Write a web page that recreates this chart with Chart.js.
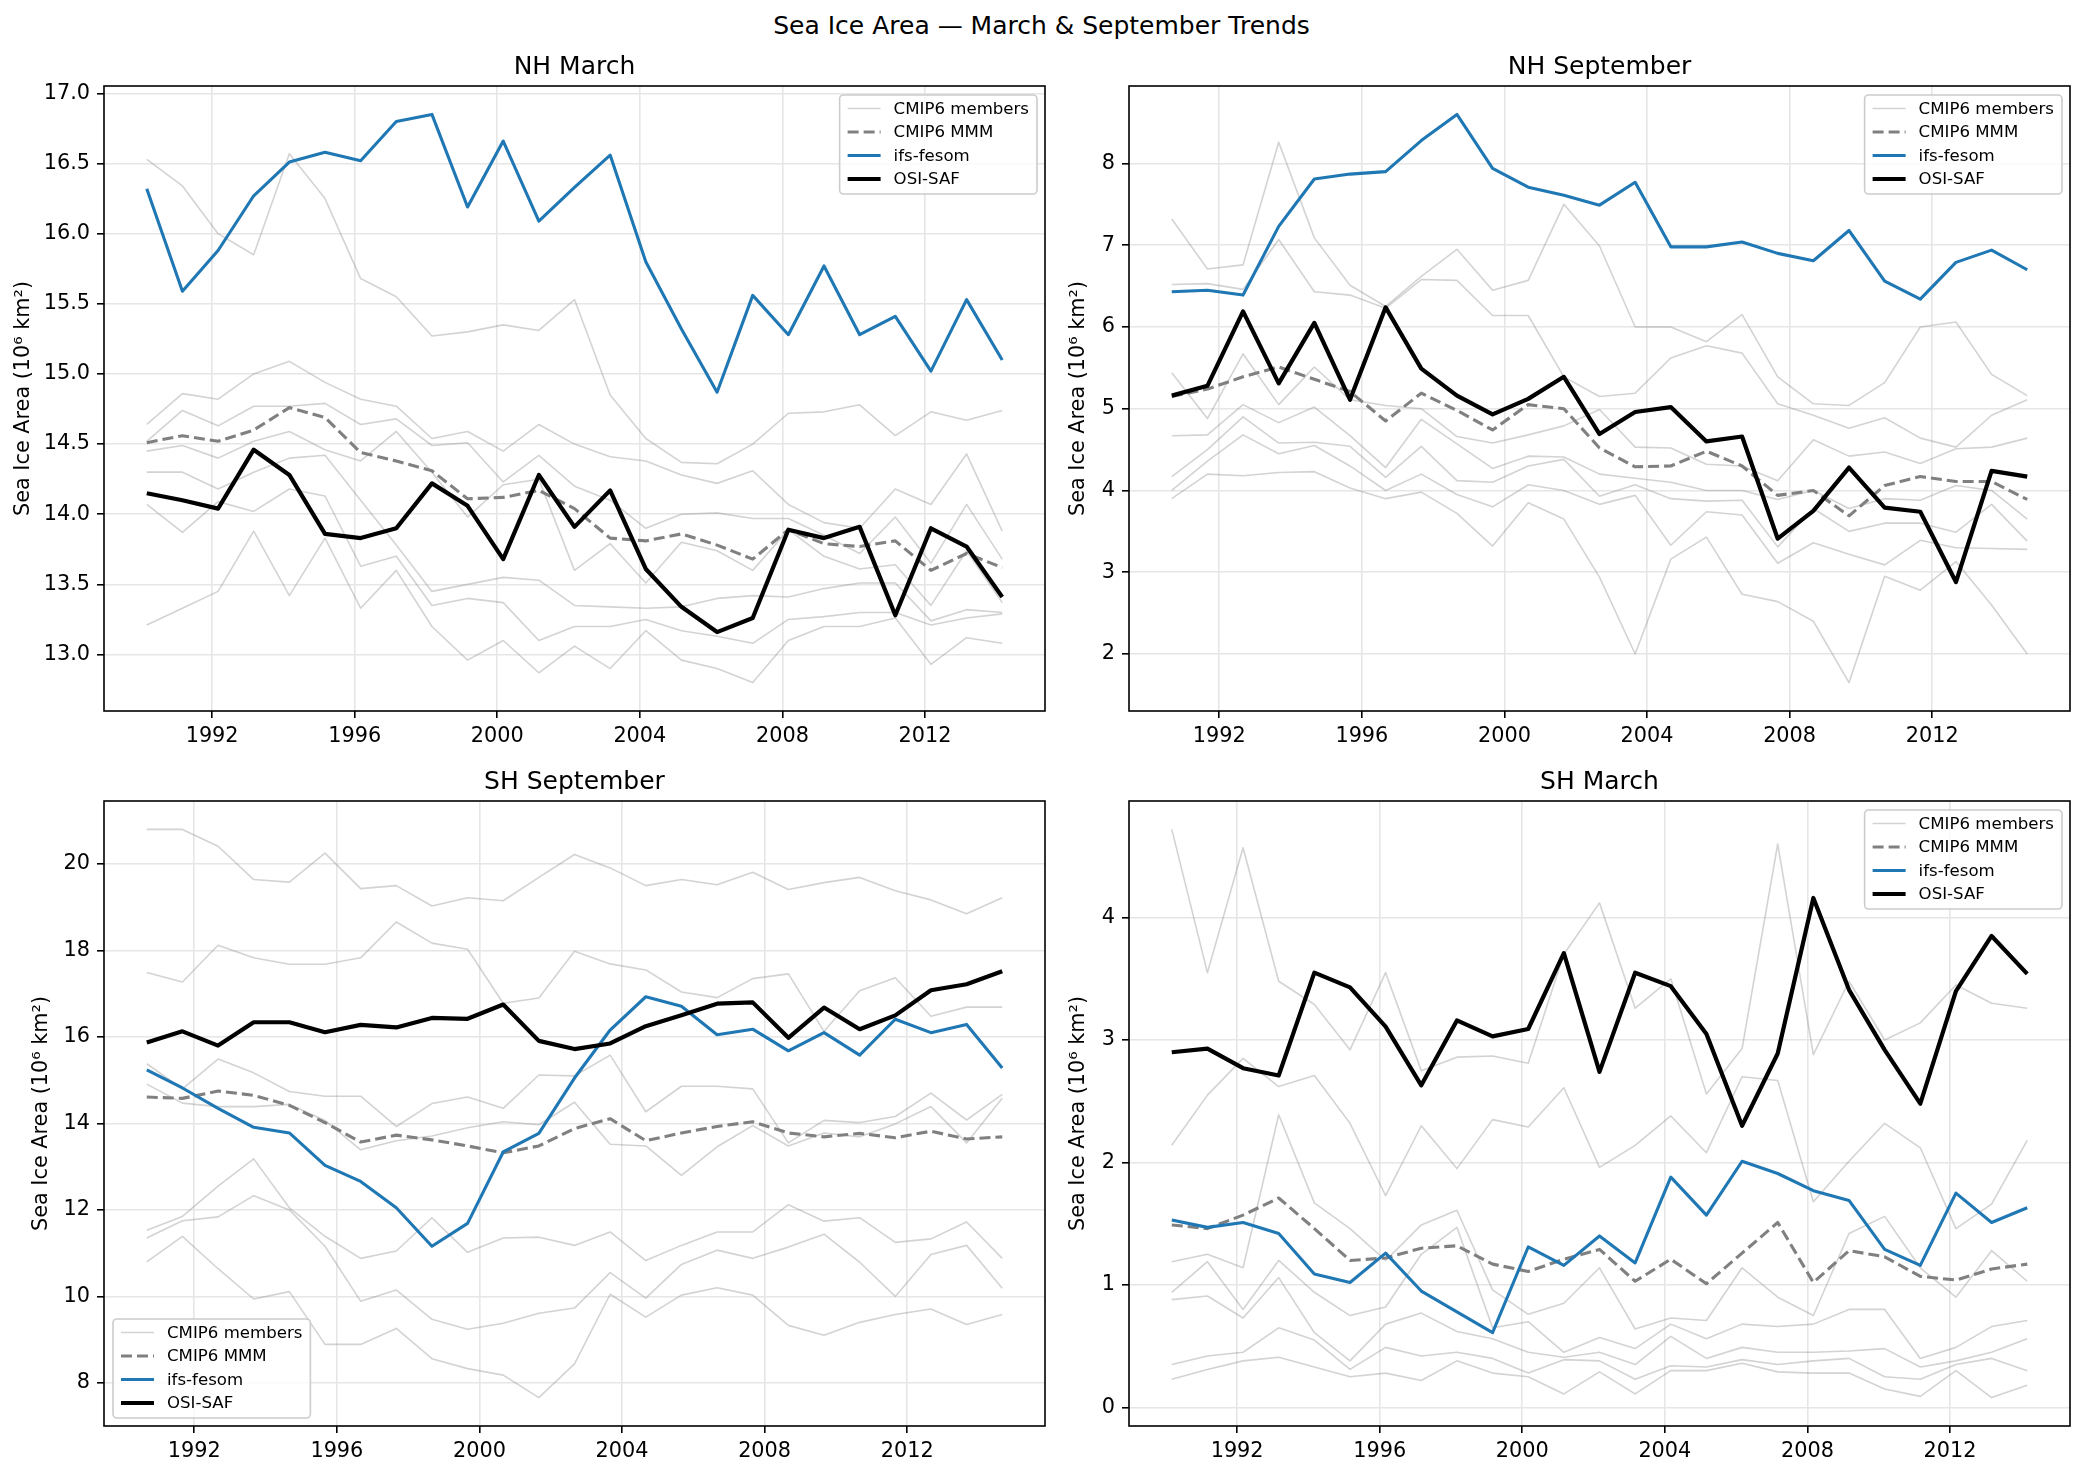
<!DOCTYPE html>
<html>
<head>
<meta charset="utf-8">
<script src="https://cdn.jsdelivr.net/npm/chart.js@4.4.1/dist/chart.umd.min.js"></script>
<style>
html,body{margin:0;padding:0;background:#fff;width:2083px;height:1476px;overflow:hidden;position:relative;font-family:'DejaVu Sans',sans-serif}
#suptitle{position:absolute;left:0;top:11px;width:2083px;text-align:center;font-size:25px;line-height:30px;color:#000}
canvas{position:absolute}
</style>
</head>
<body>
<div id="suptitle">Sea Ice Area — March &amp; September Trends</div>
<canvas id="nhMar" width="1060" height="703" style="left:0;top:50px"></canvas>
<canvas id="nhSep" width="1029" height="703" style="left:1054px;top:50px"></canvas>
<canvas id="shSep" width="1060" height="703" style="left:0;top:765px"></canvas>
<canvas id="shMar" width="1029" height="703" style="left:1054px;top:765px"></canvas>
<script>
// ---- data ----
const years = [1990,1991,1992,1993,1994,1995,1996,1997,1998,1999,2000,2001,2002,2003,2004,2005,2006,2007,2008,2009,2010,2011,2012,2013,2014];
const xTicks = [1992, 1996, 2000, 2004, 2008, 2012];
const MARCH = 2/12, SEPT = 8/12;

// NH March
const nhMarOsi = [14.15,14.10,14.04,14.46,14.28,13.86,13.83,13.90,14.22,14.06,13.68,14.28,13.91,14.17,13.61,13.34,13.16,13.26,13.89,13.83,13.91,13.28,13.90,13.77,13.41];
const nhMarIfs = [16.32,15.59,15.88,16.27,16.51,16.58,16.52,16.80,16.85,16.19,16.66,16.09,16.33,16.56,15.80,15.32,14.87,15.56,15.28,15.77,15.28,15.41,15.02,15.53,15.10];
const nhMarMmm = [14.51,14.56,14.52,14.60,14.76,14.69,14.44,14.38,14.31,14.11,14.12,14.17,14.04,13.83,13.81,13.86,13.78,13.68,13.89,13.79,13.77,13.81,13.60,13.72,13.62];
const nhMarMembers = [
  [16.53,16.34,16.00,15.85,16.57,16.25,15.68,15.55,15.27,15.30,15.35,15.31,15.53,14.85,14.54,14.37,14.36,14.50,14.72,14.73,14.78,14.56,14.73,14.67,14.74],
  [14.64,14.86,14.82,15.00,15.09,14.94,14.82,14.77,14.54,14.59,14.45,14.64,14.50,14.41,14.38,14.28,14.22,14.31,14.07,13.94,13.90,14.18,14.07,14.43,13.88],
  [14.52,14.74,14.63,14.77,14.77,14.79,14.64,14.68,14.49,14.51,14.23,14.42,14.20,14.10,13.90,14.00,14.01,13.97,13.97,13.85,13.72,13.98,13.65,14.07,13.68],
  [14.45,14.49,14.40,14.52,14.59,14.46,14.38,14.59,14.30,13.98,14.21,14.25,13.60,13.79,13.51,13.80,13.74,13.60,13.89,13.70,13.61,13.64,13.35,13.74,13.37],
  [14.30,14.30,14.18,14.30,14.40,14.42,14.10,13.78,13.45,13.50,13.55,13.53,13.35,13.34,13.33,13.34,13.40,13.42,13.41,13.47,13.51,13.51,13.24,13.32,13.30],
  [14.07,13.87,14.09,14.02,14.18,14.13,13.63,13.70,13.35,13.40,13.37,13.10,13.20,13.20,13.25,13.17,13.13,13.08,13.25,13.27,13.30,13.30,13.21,13.26,13.29],
  [13.21,13.33,13.45,13.88,13.42,13.83,13.33,13.60,13.20,12.96,13.10,12.87,13.06,12.90,13.17,12.96,12.90,12.80,13.10,13.20,13.20,13.26,12.93,13.12,13.08]
];

// NH September
const nhSepOsi = [5.16,5.28,6.19,5.31,6.05,5.11,6.24,5.49,5.16,4.93,5.12,5.39,4.69,4.96,5.02,4.60,4.66,3.41,3.75,4.28,3.79,3.74,2.88,4.24,4.17];
const nhSepIfs = [6.43,6.45,6.39,7.23,7.81,7.87,7.90,8.28,8.60,7.94,7.71,7.61,7.49,7.77,6.98,6.98,7.04,6.90,6.81,7.18,6.56,6.34,6.79,6.94,6.70];
const nhSepMmm = [5.15,5.24,5.39,5.51,5.36,5.21,4.85,5.19,4.98,4.74,5.05,5.00,4.52,4.29,4.30,4.48,4.30,3.94,4.00,3.69,4.06,4.17,4.11,4.11,3.89];
const nhSepMembers = [
  [7.32,6.71,6.76,8.26,7.09,6.51,6.25,6.62,6.95,6.45,6.57,7.50,6.99,6.00,6.00,5.82,6.15,5.39,5.06,5.04,5.32,6.00,6.06,5.42,5.16],
  [6.52,6.53,6.46,7.07,6.43,6.39,6.23,6.58,6.57,6.14,6.14,5.39,5.15,5.19,5.62,5.77,5.68,5.06,4.92,4.76,4.89,4.64,4.53,4.92,5.11],
  [5.44,4.88,5.67,5.05,5.51,5.11,5.04,5.00,4.66,4.58,4.68,4.79,4.99,4.53,4.52,4.32,4.30,4.12,4.62,4.42,4.47,4.33,4.51,4.53,4.64],
  [4.67,4.68,5.05,4.83,5.02,4.67,4.28,4.87,4.57,4.27,4.42,4.41,4.20,4.15,4.10,4.00,4.00,3.89,4.00,3.78,3.90,3.88,4.06,4.00,3.65],
  [4.17,4.50,4.90,4.58,4.59,4.54,4.16,4.54,4.12,4.10,4.30,4.38,3.93,4.07,3.90,3.87,3.88,3.31,3.78,3.50,3.60,3.60,3.49,3.83,3.38],
  [4.00,4.36,4.68,4.45,4.55,4.30,4.00,4.20,3.95,3.80,4.07,4.00,3.83,3.94,3.33,3.74,3.70,3.11,3.36,3.22,3.09,3.39,3.30,3.29,3.28],
  [3.90,4.20,4.18,4.22,4.23,4.03,3.90,3.98,3.72,3.32,3.85,3.65,2.94,2.00,3.16,3.43,2.73,2.64,2.40,1.65,2.95,2.78,3.13,2.60,2.00]
];

// SH September
const shSepOsi = [15.87,16.13,15.80,16.34,16.34,16.11,16.28,16.22,16.44,16.42,16.75,15.91,15.72,15.85,16.25,16.50,16.77,16.80,15.98,16.68,16.18,16.50,17.08,17.22,17.52];
const shSepIfs = [15.24,14.82,14.35,13.91,13.78,13.03,12.66,12.05,11.16,11.69,13.34,13.77,15.05,16.16,16.93,16.71,16.05,16.18,15.68,16.10,15.58,16.41,16.10,16.29,15.28];
const shSepMmm = [14.61,14.58,14.75,14.65,14.42,14.02,13.57,13.73,13.62,13.48,13.32,13.48,13.88,14.11,13.60,13.78,13.93,14.04,13.78,13.69,13.77,13.67,13.82,13.64,13.69];
const shSepMembers = [
  [20.80,20.80,20.41,19.64,19.58,20.25,19.43,19.50,19.03,19.22,19.15,19.69,20.22,19.91,19.50,19.64,19.52,19.81,19.41,19.57,19.69,19.38,19.17,18.85,19.22],
  [17.49,17.27,18.12,17.83,17.68,17.68,17.83,18.66,18.17,18.03,16.78,16.90,17.98,17.69,17.55,17.04,16.91,17.35,17.46,16.13,17.07,17.37,16.48,16.69,16.69],
  [15.38,14.80,15.49,15.17,14.74,14.63,14.63,13.93,14.46,14.61,14.35,15.12,15.10,15.58,14.27,14.86,14.86,14.80,13.55,14.07,14.02,14.16,14.70,14.08,14.67],
  [14.91,14.47,14.39,14.39,14.44,14.07,13.39,13.60,13.71,13.90,14.04,13.97,14.49,13.52,13.48,12.80,13.46,13.95,13.48,13.78,13.69,13.99,14.39,13.55,14.58],
  [11.53,11.85,12.55,13.18,12.05,11.39,10.88,11.05,11.82,11.02,11.35,11.37,11.18,11.49,10.83,11.18,11.49,11.49,12.12,11.74,11.82,11.25,11.33,11.72,10.88],
  [11.35,11.75,11.84,12.33,12.00,11.16,9.89,10.15,9.47,9.24,9.38,9.61,9.73,10.55,9.96,10.74,11.07,10.88,11.14,11.44,10.79,10.00,10.97,11.18,10.19],
  [10.80,11.39,10.64,9.94,10.11,8.89,8.89,9.26,8.56,8.33,8.18,7.66,8.44,10.05,9.52,10.03,10.20,10.03,9.33,9.10,9.40,9.58,9.71,9.35,9.58]
];

// SH March
const shMarOsi = [2.90,2.93,2.77,2.71,3.55,3.43,3.11,2.63,3.16,3.03,3.09,3.71,2.74,3.55,3.44,3.05,2.30,2.89,4.16,3.41,2.92,2.48,3.40,3.85,3.54];
const shMarIfs = [1.53,1.47,1.51,1.42,1.09,1.02,1.26,0.95,0.78,0.61,1.31,1.16,1.40,1.18,1.88,1.57,2.01,1.91,1.77,1.69,1.29,1.16,1.75,1.51,1.63];
const shMarMmm = [1.49,1.46,1.57,1.71,1.46,1.20,1.22,1.30,1.32,1.17,1.11,1.21,1.29,1.03,1.21,1.01,1.26,1.51,1.02,1.28,1.23,1.07,1.04,1.13,1.17];
const shMarMembers = [
  [4.72,3.55,4.57,3.48,3.29,2.92,3.55,2.75,2.86,2.87,2.81,3.70,4.12,3.26,3.50,2.56,2.93,4.60,2.88,3.48,3.00,3.14,3.45,3.30,3.26],
  [2.14,2.55,2.85,2.62,2.71,2.32,1.73,2.30,1.95,2.35,2.29,2.61,1.96,2.14,2.38,2.08,2.70,2.67,1.68,2.01,2.32,2.12,1.46,1.66,2.18],
  [1.19,1.25,1.14,2.39,1.67,1.46,1.20,1.49,1.61,0.96,0.76,0.85,1.14,0.64,0.73,0.71,1.14,0.90,0.75,1.42,1.56,1.14,0.90,1.28,1.03],
  [0.94,1.19,0.80,1.20,0.94,0.75,0.82,1.25,1.47,0.65,0.70,0.45,0.57,0.48,0.68,0.56,0.68,0.66,0.68,0.80,0.80,0.40,0.49,0.66,0.71],
  [0.88,0.91,0.73,1.06,0.61,0.38,0.68,0.77,0.62,0.56,0.45,0.41,0.45,0.35,0.58,0.40,0.49,0.45,0.45,0.46,0.48,0.33,0.38,0.45,0.56],
  [0.35,0.42,0.45,0.65,0.55,0.31,0.49,0.42,0.45,0.40,0.28,0.39,0.38,0.23,0.34,0.33,0.39,0.35,0.38,0.40,0.25,0.23,0.35,0.40,0.30],
  [0.23,0.31,0.38,0.41,0.33,0.25,0.28,0.22,0.38,0.28,0.25,0.11,0.29,0.11,0.30,0.30,0.36,0.29,0.28,0.28,0.15,0.09,0.30,0.08,0.18]
];

// ---- styles ----
const FONT = "'DejaVu Sans'";
const MEMBER_COLOR = 'rgba(128,128,128,0.35)';
const legendItems = [
  {label: 'CMIP6 members', color: MEMBER_COLOR, width: 1.6, dash: []},
  {label: 'CMIP6 MMM', color: '#808080', width: 3.1, dash: [11, 5]},
  {label: 'ifs-fesom', color: '#1f77b4', width: 3.1, dash: []},
  {label: 'OSI-SAF', color: '#000000', width: 4.2, dash: []}
];

Chart.defaults.font.family = FONT;
Chart.defaults.color = '#000';

// frame + matplotlib-like legend box
const frameLegend = {
  id: 'frameLegend',
  afterDraw(chart, args, opts) {
    const ctx = chart.ctx, a = chart.chartArea;
    ctx.save();
    ctx.strokeStyle = '#000'; ctx.lineWidth = 1.6;
    ctx.strokeRect(a.left, a.top, a.right - a.left, a.bottom - a.top);

    ctx.font = '16.6px ' + FONT;
    const tw = Math.max(...legendItems.map(i => ctx.measureText(i.label).width));
    const w = 8 + 33 + 13 + tw + 8, h = 99;
    const x = opts.corner === 'ur' ? a.right - 8 - w : a.left + 9;
    const y = opts.corner === 'ur' ? a.top + 9 : a.bottom - 8 - h;
    ctx.beginPath();
    ctx.roundRect(x, y, w, h, 4);
    ctx.fillStyle = 'rgba(255,255,255,0.8)'; ctx.fill();
    ctx.strokeStyle = '#cccccc'; ctx.lineWidth = 1.6; ctx.stroke();
    legendItems.forEach((it, i) => {
      const cy = y + 13.5 + i * 23.5;
      ctx.beginPath();
      ctx.setLineDash(it.dash);
      ctx.strokeStyle = it.color; ctx.lineWidth = it.width;
      ctx.moveTo(x + 8, cy); ctx.lineTo(x + 41, cy); ctx.stroke();
      ctx.setLineDash([]);
      ctx.fillStyle = '#000'; ctx.textBaseline = 'middle'; ctx.textAlign = 'left';
      ctx.fillText(it.label, x + 54, cy + 1);
    });
    ctx.restore();
  }
};

function panel(id, title, month, members, mmm, ifs, osi, step, digits, corner, yWidth, padRight, titlePad) {
  const pts = arr => arr.map((v, i) => ({x: years[i] + month, y: v}));
  const all = members.flat().concat(mmm, ifs, osi);
  const lo = Math.min(...all), hi = Math.max(...all), pad = (hi - lo) * 0.05;
  const x0 = years[0] + month, x1 = years[years.length - 1] + month, xpad = (x1 - x0) * 0.05;

  const datasets = [
    {label: 'OSI-SAF', data: pts(osi), borderColor: '#000', borderWidth: 4.2},
    {label: 'ifs-fesom', data: pts(ifs), borderColor: '#1f77b4', borderWidth: 3.1},
    {label: 'CMIP6 MMM', data: pts(mmm), borderColor: '#808080', borderWidth: 3.1, borderDash: [11, 5]}
  ].concat(members.map(m => ({label: 'CMIP6 members', data: pts(m), borderColor: MEMBER_COLOR, borderWidth: 1.6})));

  const tickFont = {size: 20.8, family: FONT};
  new Chart(document.getElementById(id), {
    type: 'line',
    data: {datasets},
    plugins: [frameLegend],
    options: {
      responsive: false, animation: false, devicePixelRatio: 1,
      layout: {padding: {left: 0, right: padRight, top: 0, bottom: 0}},
      elements: {
        point: {radius: 0},
        line: {tension: 0, fill: false, borderJoinStyle: 'round'}
      },
      scales: {
        x: {
          type: 'linear', min: x0 - xpad, max: x1 + xpad,
          afterBuildTicks: s => { s.ticks = xTicks.map(v => ({value: v})); },
          afterFit: s => { s.height = 42; },
          ticks: {font: tickFont, color: '#000', padding: 6, maxRotation: 0, callback: v => String(v)},
          grid: {color: '#e6e6e6', lineWidth: 1.6, tickColor: '#000', tickLength: 7, tickWidth: 1.6},
          border: {display: false}
        },
        y: {
          type: 'linear', min: lo - pad, max: hi + pad,
          afterBuildTicks: s => {
            const t = [];
            for (let v = Math.ceil(s.min / step - 1e-9) * step; v <= s.max + 1e-9; v += step) t.push({value: +v.toFixed(3)});
            s.ticks = t;
          },
          afterFit: s => { s.width = yWidth; },
          ticks: {font: tickFont, color: '#000', padding: 7, callback: v => Number(v).toFixed(digits)},
          grid: {color: '#e6e6e6', lineWidth: 1.6, tickColor: '#000', tickLength: 7, tickWidth: 1.6},
          border: {display: false},
          title: {display: true, text: 'Sea Ice Area (10⁶ km²)', font: {size: 20.8, family: FONT}, color: '#000', padding: {top: titlePad, bottom: 0}}
        }
      },
      plugins: {
        legend: {display: false},
        tooltip: {enabled: false},
        title: {display: true, text: title, fullSize: false, color: '#000', font: {size: 25, family: FONT, weight: 'normal', lineHeight: 1.2}, padding: {top: 2, bottom: 4}},
        frameLegend: {corner}
      }
    }
  });
}

panel('nhMar', 'NH March', MARCH, nhMarMembers, nhMarMmm, nhMarIfs, nhMarOsi, 0.5, 1, 'ur', 104, 15, 11.5);
panel('nhSep', 'NH September', SEPT, nhSepMembers, nhSepMmm, nhSepIfs, nhSepOsi, 1, 0, 'ur', 75, 13, 12.5);
panel('shSep', 'SH September', SEPT, shSepMembers, shSepMmm, shSepIfs, shSepOsi, 2, 0, 'll', 104, 15, 29);
panel('shMar', 'SH March', MARCH, shMarMembers, shMarMmm, shMarIfs, shMarOsi, 1, 0, 'ur', 75, 13, 12.5);
</script>
</body>
</html>
